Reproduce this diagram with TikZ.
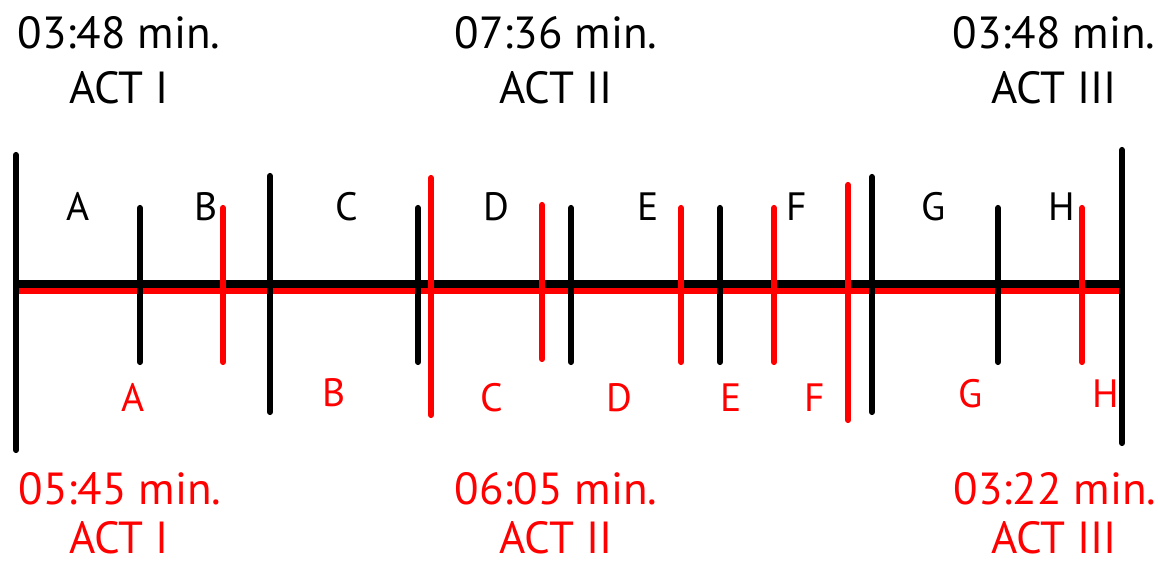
\documentclass[tikz,border=0pt]{standalone}
\usepackage{fontspec}
\setmainfont{PT Sans}
\usepackage{tikz}

\begin{document}
\begin{tikzpicture}[
    x=0.02cm, y=-0.02cm,
    oldcut/.style={draw=black, line width=3.5pt, line cap=round},
    newcut/.style={draw=red, line width=3.5pt, line cap=round},
    title/.style={font=\fontsize{25.6}{30}\selectfont, anchor=base, inner sep=0pt},
    scene/.style={font=\fontsize{22.5}{26}\selectfont, anchor=base, inner sep=0pt},
  ]
    \useasboundingbox (0,0) rectangle (1158,565);

    % Timelines (red = new cut, black = old cut)
    \coordinate (start) at (17,284);
    \coordinate (stop) at (1120,284);
    \draw[newcut, line width=4pt, line cap=butt] ([yshift=-3.6pt]start) -- ([yshift=-3.6pt]stop);
    \draw[oldcut, line width=4pt, line cap=butt] (start) -- (stop);

    % Old scene boundaries
    \draw[oldcut] (16,155) -- (16,450);
    \draw[oldcut] (140,208) -- (140,362);
    \draw[oldcut] (270,176) -- (270,412);
    \draw[oldcut] (418,208) -- (418,362);
    \draw[oldcut] (571,208) -- (571,362);
    \draw[oldcut] (720,208) -- (720,362);
    \draw[oldcut] (872,177) -- (872,412);
    \draw[oldcut] (998,208) -- (998,362);
    \draw[oldcut] (1122,150) -- (1122,443);

    % New scene boundaries
    \draw[newcut] (223,208) -- (223,362);
    \draw[newcut] (431,178) -- (431,415);
    \draw[newcut] (542,205) -- (542,359);
    \draw[newcut] (681,208) -- (681,362);
    \draw[newcut] (774,208) -- (774,362);
    \draw[newcut] (848,185) -- (848,420);
    \draw[newcut] (1082,208) -- (1082,362);

    % Scene letters
    \node[scene] (oA) at (78,220) {A};
    \node[scene] (oB) at (206,220) {B};
    \node[scene] (oC) at (347,220) {C};
    \node[scene] (oD) at (496,220) {D};
    \node[scene] (oE) at (648,220) {E};
    \node[scene] (oF) at (797,220) {F};
    \node[scene] (oG) at (934,220) {G};
    \node[scene] (oH) at (1062,220) {H};

    \node[scene, red] (nA) at (133,411) {A};
    \node[scene, red] (nB) at (334,406) {B};
    \node[scene, red] (nC) at (492,411) {C};
    \node[scene, red] (nD) at (619,411) {D};
    \node[scene, red] (nE) at (731,411) {E};
    \node[scene, red] (nF) at (815,411) {F};
    \node[scene, red] (nG) at (971,407) {G};
    \node[scene, red] (nH) at (1106,407) {H};

    % Act lengths
    \node[title] (oT1) at (119,48) {03:48 min.};
    \node[title] (oA1) at (119,103) {ACT I};
    \node[title] (oT2) at (556,48) {07:36 min.};
    \node[title] (oA2) at (556,103) {ACT II};
    \node[title] (oT3) at (1054,48) {03:48 min.};
    \node[title] (oA3) at (1054,103) {ACT III};

    \node[title, red] (nT1) at (120,504) {05:45 min.};
    \node[title, red] (nA1) at (119,553) {ACT I};
    \node[title, red] (nT2) at (556,504) {06:05 min.};
    \node[title, red] (nA2) at (556,553) {ACT II};
    \node[title, red] (nT3) at (1055,504) {03:22 min.};
    \node[title, red] (nA3) at (1054,553) {ACT III};

  \end{tikzpicture}
\end{document}
